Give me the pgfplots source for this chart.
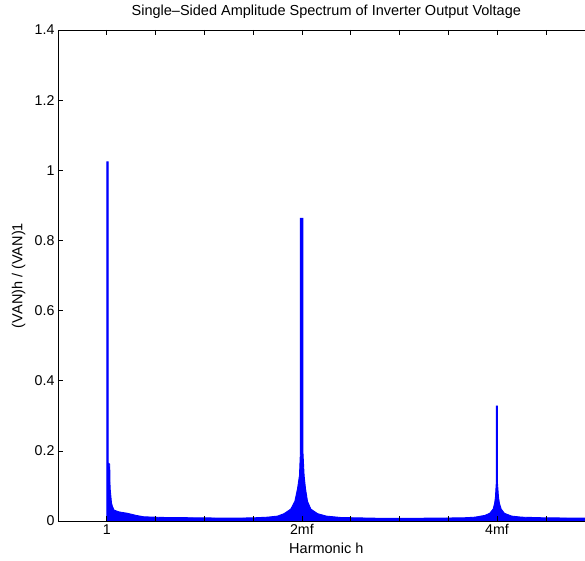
\documentclass[border=0pt]{standalone}
\usepackage{pgfplots}
\pgfplotsset{compat=1.18}
\usepackage{fontspec}
\setmainfont{Liberation Sans}
\definecolor{specblue}{RGB}{0,0,255}
\begin{document}
\begin{tikzpicture}
\begin{axis}[
  scale only axis,
  width=536.6pt, height=491pt,
  xmin=0, xmax=11, ymin=0, ymax=1.4,
  xtick={1,...,10},
  xticklabels={1,,,,2mf,,,,4mf,},
  ytick={0,0.2,...,1.4},
  yticklabels={0,0.2,0.4,0.6,0.8,1,1.2,1.4},
  tick align=inside,
  major tick length=5pt,
  tick style={black, line width=0.6pt},
  axis line style={black, line width=0.8pt},
  axis on top,
  /pgf/number format/assume math mode=true,
  tick label style={font=\fontsize{14.2}{17}\selectfont},
  title={Single\textendash Sided Amplitude Spectrum of Inverter Output Voltage},
  title style={font=\fontsize{14.5}{17}\selectfont, at={(axis description cs:0.5,1)}, anchor=base, yshift=8pt},
  xlabel={Harmonic h},
  xlabel style={font=\fontsize{14.5}{17}\selectfont, at={(axis description cs:0.5,-0.055)}, anchor=center},
  ylabel={(VAN)h / (VAN)1},
  ylabel style={font=\fontsize{14.5}{17}\selectfont, at={(axis description cs:-0.0736,0.5)}, anchor=center},
]
\addplot[draw=specblue, fill=specblue, line width=0.9pt, line join=miter] coordinates {
(1.0,0) (1.0,1.024) (1.03,1.024) (1.03,0.165) (1.06,0.162) (1.068,0.094)
(1.097,0.051) (1.117,0.041) (1.15,0.031) (1.25,0.026) (1.425,0.022) (1.6,0.016)
(1.759,0.012) (2.2,0.010) (3.0,0.009) (3.5,0.008) (4.0,0.009) (4.3,0.011)
(4.5,0.014) (4.635,0.021) (4.772,0.034) (4.855,0.056) (4.91,0.092) (4.95,0.13)
(4.97,0.2) (4.97,0.863) (5.02,0.863) (5.02,0.2) (5.045,0.13) (5.074,0.092)
(5.115,0.056) (5.183,0.034) (5.32,0.021) (5.5,0.014) (5.8,0.010) (6.5,0.008)
(7.5,0.008) (8.3,0.009) (8.55,0.011) (8.75,0.016) (8.85,0.022) (8.92,0.034)
(8.95,0.05) (8.967,0.068) (8.985,0.11) (8.985,0.328) (9.008,0.328) (9.008,0.11)
(9.03,0.068) (9.05,0.05) (9.085,0.034) (9.15,0.022) (9.3,0.014) (9.5,0.011)
(10.0,0.009) (11.0,0.008) (11.0,0)
} \closedcycle;
\coordinate (SW) at (rel axis cs:0,0);
\end{axis}
\pgfresetboundingbox
\path ([shift={(-58pt,-39pt)}]SW) rectangle ++(585pt,560pt);
\end{tikzpicture}
\end{document}
